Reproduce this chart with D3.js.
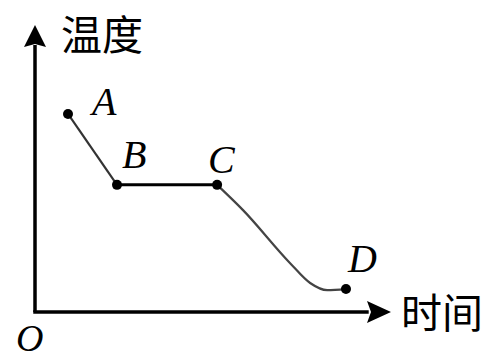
<!DOCTYPE html>
<html>
<head>
<meta charset="utf-8">
<script src="https://cdn.jsdelivr.net/npm/d3@7"></script>
<style>
  body { margin: 0; background: #fff; }
  svg { display: block; }
</style>
</head>
<body>
<div id="chart"></div>
<script>
// labelled points (time, temperature) in arbitrary units 0..100
const pointNames = ["A", "B", "C", "D"]
const pointTime = [9.3, 23.1, 51.3, 87.6]
const pointTemp = [69, 44.3, 44.3, 8.0]

// points along the C -> D curve
const curveTime = [51.3, 58.6, 71.8, 77.5, 82.3, 87.6]
const curveTemp = [44.3, 35.5, 17.1, 10.1, 7.6, 8.0]

const axisLabels = { x: "时间", y: "温度", origin: "O" }

const width = 492
const height = 361

const x = d3.scaleLinear().domain([0, 100]).range([35, 390])
const y = d3.scaleLinear().domain([0, 100]).range([312, 25])

const svg = d3.select("#chart").append("svg")
    .attr("width", width)
    .attr("height", height)

// axes
const axisG = svg.append("g")
axisG.append("line")
    .attr("x1", x(0)).attr("y1", y(0))
    .attr("x2", x(0)).attr("y2", y(93))
    .attr("stroke", "#000").attr("stroke-width", 3.5)
axisG.append("line")
    .attr("x1", x(0) - 1.75).attr("y1", y(0))
    .attr("x2", x(94)).attr("y2", y(0))
    .attr("stroke", "#000").attr("stroke-width", 3.5)

// arrow heads
const x0 = x(0), y0 = y(0)
axisG.append("path")
    .attr("d", `M${x0},${y(100)} L${x0 + 11},${y(100) + 22} L${x0},${y(100) + 19} L${x0 - 11},${y(100) + 22} Z`)
    .attr("fill", "#000")
axisG.append("path")
    .attr("d", `M${x(100) + 1},${y0} L${x(100) - 23},${y0 + 11} L${x(100) - 19},${y0} L${x(100) - 23},${y0 - 11} Z`)
    .attr("fill", "#000")

// axis labels
svg.append("text")
    .attr("x", x(0) + 26).attr("y", y(100) + 25)
    .style("font-family", "'Noto Sans CJK SC', sans-serif")
    .style("font-size", "41px")
    .text(axisLabels.y)
svg.append("text")
    .attr("x", x(100) + 11).attr("y", y(0) + 16)
    .style("font-family", "'Noto Sans CJK SC', sans-serif")
    .style("font-size", "41px")
    .text(axisLabels.x)
svg.append("text")
    .attr("x", 16).attr("y", 351)
    .style("font-family", "'Liberation Serif', serif")
    .style("font-style", "italic")
    .style("font-size", "38px")
    .text(axisLabels.origin)

// segments A-B and B-C
const line = d3.line().x(d => x(d[0])).y(d => y(d[1]))
svg.append("path")
    .attr("d", line([[pointTime[0], pointTemp[0]], [pointTime[1], pointTemp[1]]]))
    .attr("stroke", "#333").attr("stroke-width", 2.2).attr("fill", "none")
svg.append("path")
    .attr("d", line([[pointTime[1], pointTemp[1]], [pointTime[2], pointTemp[2]]]))
    .attr("stroke", "#000").attr("stroke-width", 3).attr("fill", "none")

// curve C-D
const curve = d3.line().x(d => x(d[0])).y(d => y(d[1])).curve(d3.curveMonotoneX)
svg.append("path")
    .attr("d", curve(curveTime.map((t, i) => [t, curveTemp[i]])))
    .attr("stroke", "#444").attr("stroke-width", 2.2).attr("fill", "none")

// dots
svg.selectAll(".dot")
    .data(pointNames)
    .join("circle")
    .attr("class", "dot")
    .attr("cx", (d, i) => x(pointTime[i]))
    .attr("cy", (d, i) => y(pointTemp[i]))
    .attr("r", 5)
    .attr("fill", "#000")

// point labels
const labelDx = [24, 5, -9, 2]
const labelDy = [1, -17, -12, -17]
svg.selectAll(".lbl")
    .data(pointNames)
    .join("text")
    .attr("class", "lbl")
    .attr("x", (d, i) => x(pointTime[i]) + labelDx[i])
    .attr("y", (d, i) => y(pointTemp[i]) + labelDy[i])
    .style("font-family", "'Liberation Serif', serif")
    .style("font-style", "italic")
    .style("font-size", "40px")
    .text(d => d)
</script>
</body>
</html>
